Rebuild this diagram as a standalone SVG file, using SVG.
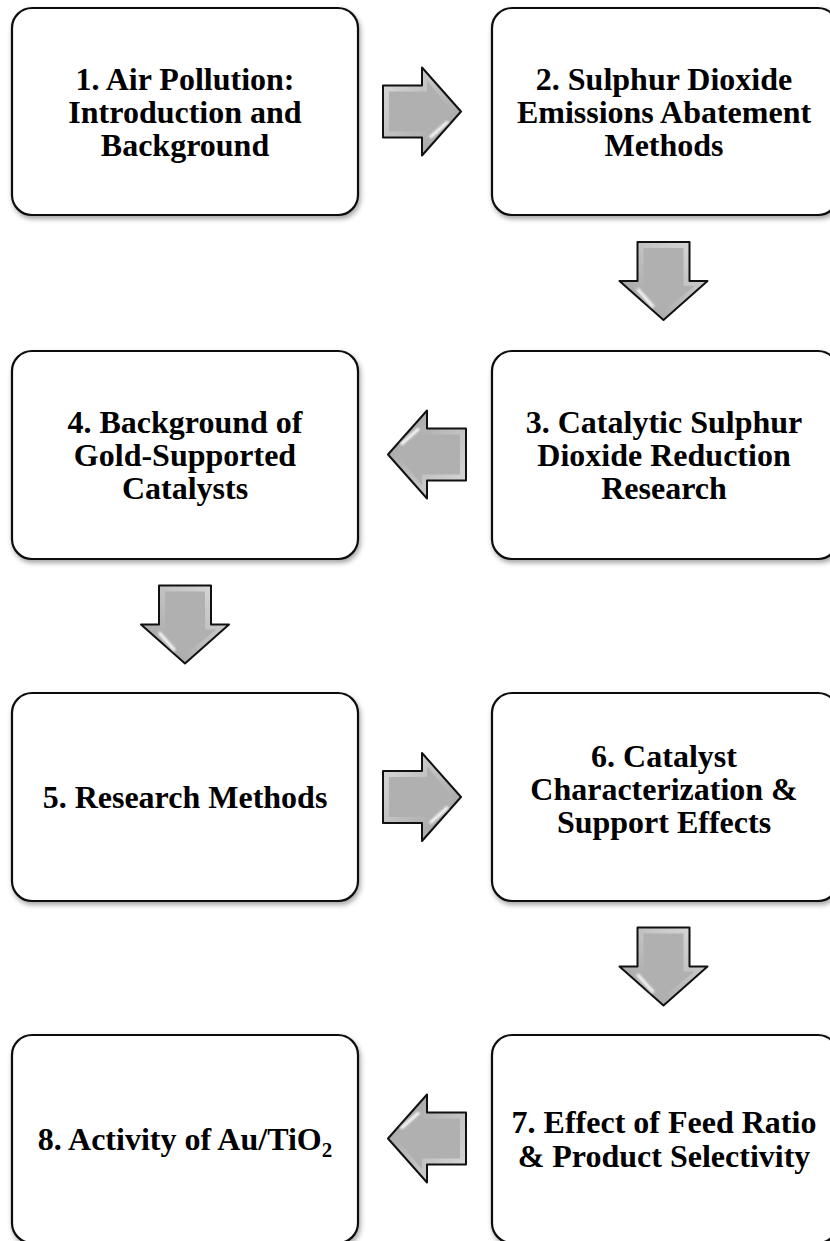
<svg xmlns="http://www.w3.org/2000/svg" width="830" height="1241" viewBox="0 0 830 1241">
<style>
.box{fill:#fff;stroke:#111;stroke-width:2.2;filter:url(#sh)}
.t{font-family:"Liberation Serif","Times New Roman",serif;font-weight:bold;font-size:32px;fill:#000;text-anchor:middle}
</style>
<defs>
<filter id="sh" x="-10%" y="-10%" width="130%" height="130%">
<feDropShadow dx="1.5" dy="3" stdDeviation="2.5" flood-color="#000" flood-opacity="0.35"/>
</filter>
<filter id="bl" x="-20%" y="-20%" width="140%" height="140%"><feGaussianBlur stdDeviation="1"/></filter>
<linearGradient id="ag" x1="0" y1="0" x2="1" y2="1">
<stop offset="0" stop-color="#dcdcdc"/>
<stop offset="1" stop-color="#9c9c9c"/>
</linearGradient>
<g id="arrow">
<polygon points="-39,-26 0,-26 0,-44 39,0 0,44 0,26 -39,26" fill="url(#ag)" stroke="#111" stroke-width="2" stroke-linejoin="round"/>
<polygon points="-33,-20 5,-20 5,-31 30,0 5,31 5,20 -33,20" fill="#b0b0b0"/>
<path d="M-34,-17 L-34,17" stroke="#fff" stroke-width="3" filter="url(#bl)"/>
<path d="M8,26 L26,10" stroke="#fff" stroke-width="3" filter="url(#bl)"/>
<path d="M-30,-22 L2,-22" stroke="#e8e8e8" stroke-width="2" filter="url(#bl)"/>
</g>
</defs>
<rect width="830" height="1241" fill="#fff"/>
<g id="connectors">
<use href="#arrow" transform="translate(422,111.5)"/>
<use href="#arrow" transform="translate(663.5,281) rotate(90)"/>
<use href="#arrow" transform="translate(427,454.5) rotate(180)"/>
<use href="#arrow" transform="translate(185,624.5) rotate(90)"/>
<use href="#arrow" transform="translate(422,797)"/>
<use href="#arrow" transform="translate(663.5,966.5) rotate(90)"/>
<use href="#arrow" transform="translate(427,1138.5) rotate(180)"/>
</g>
<g id="node1"><rect class="box" x="12" y="8" width="346" height="207" rx="20"/>
<text class="t" x="185" y="90">1. Air Pollution:</text><text class="t" x="185" y="123">Introduction and</text><text class="t" x="185" y="156">Background</text></g>
<g id="node2"><rect class="box" x="492" y="8" width="346" height="207" rx="20"/>
<text class="t" x="664" y="90">2. Sulphur Dioxide</text><text class="t" x="664" y="123">Emissions Abatement</text><text class="t" x="664" y="156">Methods</text></g>
<g id="node3"><rect class="box" x="492" y="351" width="346" height="208" rx="20"/>
<text class="t" x="664" y="433">3. Catalytic Sulphur</text><text class="t" x="664" y="466">Dioxide Reduction</text><text class="t" x="664" y="499">Research</text></g>
<g id="node4"><rect class="box" x="12" y="351" width="346" height="208" rx="20"/>
<text class="t" x="185" y="433">4. Background of</text><text class="t" x="185" y="466">Gold-Supported</text><text class="t" x="185" y="499">Catalysts</text></g>
<g id="node5"><rect class="box" x="12" y="693" width="346" height="208" rx="20"/>
<text class="t" x="185" y="808">5. Research Methods</text></g>
<g id="node6"><rect class="box" x="492" y="693" width="346" height="208" rx="20"/>
<text class="t" x="664" y="767">6. Catalyst</text><text class="t" x="664" y="800">Characterization &amp;</text><text class="t" x="664" y="833">Support Effects</text></g>
<g id="node7"><rect class="box" x="492" y="1035" width="346" height="208" rx="20"/>
<text class="t" x="664" y="1133">7. Effect of Feed Ratio</text><text class="t" x="664" y="1167">&amp; Product Selectivity</text></g>
<g id="node8"><rect class="box" x="12" y="1035" width="346" height="208" rx="20"/>
<text class="t" x="185" y="1150">8. Activity of Au/TiO<tspan font-size="21" dy="7">2</tspan></text></g>
</svg>
